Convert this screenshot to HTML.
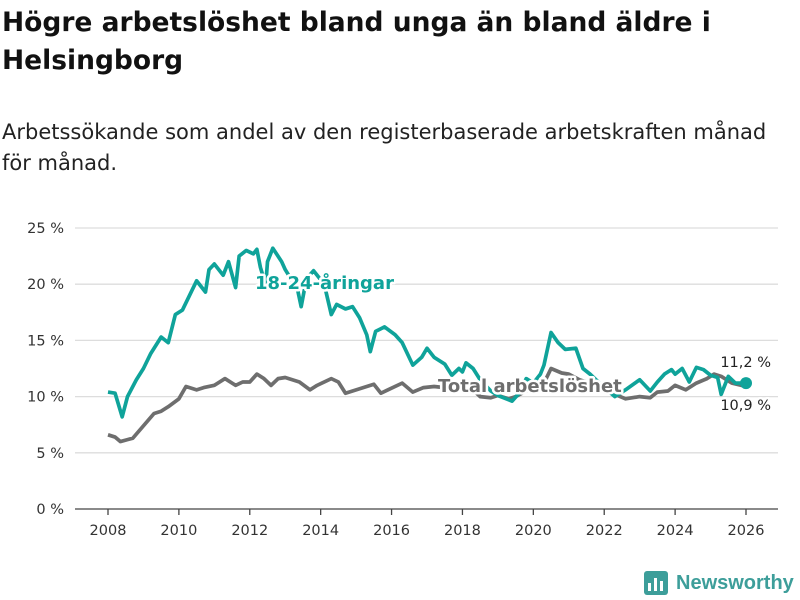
<!DOCTYPE html>
<html><head><meta charset="utf-8"><style>
body{margin:0;width:800px;height:600px;background:#fff;font-family:"DejaVu Sans","Liberation Sans",sans-serif;overflow:hidden;position:relative}
h1{position:absolute;left:2px;top:4px;margin:0;font-size:26.5px;line-height:38px;font-weight:bold;color:#111}
p{position:absolute;left:2px;top:117px;margin:0;font-size:21px;line-height:31px;color:#222}
svg{position:absolute;left:0;top:0}
</style></head><body>
<h1>Högre arbetslöshet bland unga än bland äldre i<br>Helsingborg</h1>
<p>Arbetssökande som andel av den registerbaserade arbetskraften månad<br>för månad.</p>
<svg id="c" width="800" height="600"></svg>
<script>
const yTicks=[0,5,10,15,20,25];
const xTicks=[2008,2010,2012,2014,2016,2018,2020,2022,2024,2026];
const youthDates=[2008.0,2008.2,2008.4,2008.55,2008.8,2009.0,2009.2,2009.5,2009.7,2009.9,2010.1,2010.3,2010.5,2010.75,2010.85,2011.0,2011.25,2011.4,2011.6,2011.7,2011.9,2012.1,2012.2,2012.3,2012.45,2012.5,2012.65,2012.9,2013.0,2013.35,2013.45,2013.6,2013.8,2014.1,2014.3,2014.45,2014.7,2014.9,2015.1,2015.3,2015.4,2015.55,2015.8,2016.1,2016.3,2016.6,2016.85,2017.0,2017.2,2017.5,2017.7,2017.9,2018.0,2018.1,2018.3,2018.5,2018.8,2019.0,2019.4,2019.6,2019.8,2020.0,2020.2,2020.3,2020.5,2020.7,2020.9,2021.2,2021.4,2021.6,2022.0,2022.3,2022.6,2023.0,2023.3,2023.5,2023.7,2023.9,2024.0,2024.2,2024.4,2024.6,2024.8,2025.0,2025.2,2025.3,2025.5,2025.7,2026.0];
const youthValues=[10.4,10.3,8.2,10.0,11.5,12.5,13.8,15.3,14.8,17.3,17.7,19.0,20.3,19.3,21.3,21.8,20.8,22.0,19.7,22.5,23.0,22.7,23.1,21.5,19.9,22.0,23.2,22.0,21.3,19.5,18.0,20.5,21.2,20.0,17.3,18.2,17.8,18.0,17.0,15.5,14.0,15.8,16.2,15.5,14.8,12.8,13.5,14.3,13.5,12.9,11.9,12.5,12.2,13.0,12.5,11.5,10.5,10.1,9.6,10.3,11.6,11.2,12.0,12.8,15.7,14.8,14.2,14.3,12.5,12.0,10.8,10.0,10.6,11.5,10.5,11.3,12.0,12.4,12.0,12.5,11.3,12.6,12.4,11.9,11.7,10.2,11.8,11.2,11.2];
const totalDates=[2008.0,2008.2,2008.35,2008.7,2009.0,2009.3,2009.5,2009.7,2010.0,2010.2,2010.5,2010.7,2011.0,2011.3,2011.6,2011.8,2012.0,2012.2,2012.4,2012.6,2012.8,2013.0,2013.4,2013.7,2013.9,2014.3,2014.5,2014.7,2014.9,2015.2,2015.5,2015.7,2015.9,2016.3,2016.6,2016.9,2017.2,2017.5,2017.8,2018.2,2018.5,2018.8,2019.0,2019.3,2019.5,2019.8,2020.0,2020.3,2020.5,2020.8,2021.0,2021.3,2021.6,2022.0,2022.3,2022.6,2023.0,2023.3,2023.5,2023.8,2024.0,2024.3,2024.6,2024.9,2025.1,2025.3,2025.6,2026.0];
const totalValues=[6.6,6.4,6.0,6.3,7.4,8.5,8.7,9.1,9.8,10.9,10.6,10.8,11.0,11.6,11.0,11.3,11.3,12.0,11.6,11.0,11.6,11.7,11.3,10.6,11.0,11.6,11.3,10.3,10.5,10.8,11.1,10.3,10.6,11.2,10.4,10.8,10.9,10.8,11.0,10.9,10.0,9.9,10.1,9.8,10.0,10.5,10.9,11.2,12.5,12.1,12.0,11.5,11.2,10.5,10.2,9.8,10.0,9.9,10.4,10.5,11.0,10.6,11.2,11.6,12.0,11.8,11.2,10.9];
const NS="http://www.w3.org/2000/svg";
const svg=document.getElementById('c');
const X=d=>108+(d-2008)*(638/18);
const Y=v=>509-v*11.24;
function mk(t,a,parent){const e=document.createElementNS(NS,t);for(const k in a)e.setAttribute(k,a[k]);(parent||svg).appendChild(e);return e;}
yTicks.forEach(v=>{
 const l=mk('line',{x1:75,x2:778,y1:Y(v),y2:Y(v),stroke:v===0?'#444':'#ddd','stroke-width':1.3});
 
 
 const t=mk('text',{x:64,y:Y(v)+5,'text-anchor':'end','font-size':14.5,fill:'#333'});
 t.textContent=v+' %';
 
 
});
xTicks.forEach(d=>{
 const l=mk('line',{x1:X(d),x2:X(d),y1:509,y2:515,stroke:'#444','stroke-width':1.3});
 
 
 const t=mk('text',{x:X(d),y:535,'text-anchor':'middle','font-size':14.5,fill:'#333'});
 t.textContent=d;
 
 
});
function line(ds,vs,col,name){
 const p=mk('polyline',{points:ds.map((d,i)=>X(d)+','+Y(vs[i])).join(' '),fill:'none',stroke:col,'stroke-width':3.7,'stroke-linejoin':'round'});
 
 
}
line(totalDates,totalValues,'#6e6e6e','total-line');
line(youthDates,youthValues,'#0fa39a','youth-line');
const d1=mk('circle',{cx:X(youthDates[youthDates.length-1]),cy:Y(youthValues[youthValues.length-1]),r:6,fill:'#0fa39a'});


function lab(x,y,s,txt,col,w,name,anchor){
 const t=mk('text',{x:x,y:y,'font-size':s,'font-weight':w,fill:col,stroke:'#fff','stroke-width':5,'paint-order':'stroke','stroke-linejoin':'round','text-anchor':anchor||'start'});
 t.textContent=txt;
 
 
}
lab(255,289,18,'18-24-åringar','#0fa39a','bold','youth-label');
lab(438,392,18,'Total arbetslöshet','#6e6e6e','bold','total-label');
lab(771,367,14.5,'11,2 %','#222','normal','youth-end-value','end');
lab(771,410,14.5,'10,9 %','#222','normal','total-end-value','end');
</script>
<div style="position:absolute;left:644px;top:570px;height:26px;display:flex;align-items:center">
<svg width="24" height="24" style="position:static"><rect x="0" y="0" width="24" height="24" rx="3" fill="#3d9e9a"/><rect x="4" y="12" width="3" height="8" fill="#fff"/><rect x="10" y="7" width="3" height="13" fill="#fff"/><rect x="16" y="10" width="3" height="10" fill="#fff"/></svg>
<span style="margin-left:8px;font-family:'Liberation Sans',sans-serif;font-size:20px;font-weight:bold;color:#3d9e9a">Newsworthy</span></div>
</body></html>
